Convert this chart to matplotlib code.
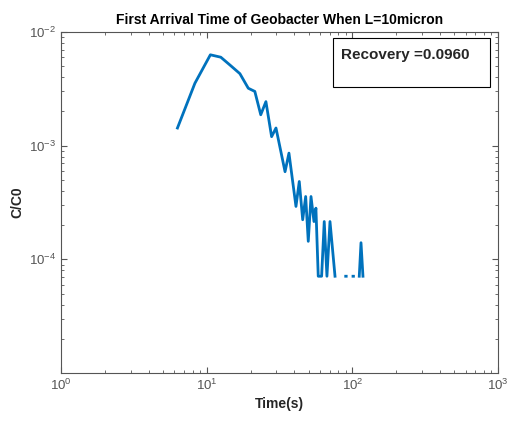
import numpy as np
import matplotlib
matplotlib.use('Agg')
import matplotlib.pyplot as plt
from matplotlib.patches import Rectangle

plt.rcParams['font.family'] = ['Liberation Sans', 'DejaVu Sans']
plt.rcParams['mathtext.fontset'] = 'custom'
plt.rcParams['mathtext.rm'] = 'Liberation Sans'
plt.rcParams['mathtext.it'] = 'Liberation Sans'
plt.rcParams['axes.unicode_minus'] = False

# time (s) and C/C0; NaN marks gaps (zero values on log axis)
time_s = [6.3, 8.3, 10.6, 12.5, 14.5, 16.9, 19.3, 21.4, 23.5, 25.5, 27.9, 29.9,
          34.5, 36.7, 41.0, 43.2, 45.6, 47.8, 49.8, 52.0, 54.5, 56.2, 58.3, 61.5,
          64.1, 66.9, 70.2, 76.0, np.nan,
          90.0, 90.7, np.nan,
          101.0, 101.7, np.nan,
          111.5, 114.6, 118.2]
conc = [1.43e-3, 3.54e-3, 6.3e-3, 6.0e-3, 5.1e-3, 4.3e-3, 3.2e-3, 3.0e-3, 1.87e-3, 2.44e-3, 1.2e-3, 1.43e-3,
        5.9e-4, 8.6e-4, 2.92e-4, 4.84e-4, 2.23e-4, 3.57e-4, 1.44e-4, 3.57e-4, 2.15e-4, 2.82e-4, 7.1e-5, 7.1e-5,
        2.15e-4, 7.1e-5, 2.15e-4, 7.1e-5, np.nan,
        7.1e-5, 7.1e-5, np.nan,
        7.1e-5, 7.1e-5, np.nan,
        7.1e-5, 1.4e-4, 7.1e-5]
recovery = 0.0960

fig = plt.figure(figsize=(5.1, 4.26), dpi=100)
ax = fig.add_axes([0.1196, 0.1244, 0.857, 0.8005])

ax.plot(time_s, conc, color='#0072BD', linewidth=2)

ax.set_xscale('log')
ax.set_yscale('log')
ax.set_xlim(1, 1000)
ax.set_ylim(1e-5, 1e-2)
ax.set_yticks([1e-4, 1e-3, 1e-2])
ax.set_xticks([1, 10, 100, 1000])

gray = '#555555'
for s in ax.spines.values():
    s.set_color('#555555')
    s.set_linewidth(0.8)
ax.tick_params(which='both', direction='in', top=True, right=True, colors='#555555',
               labelcolor=gray, labelsize=9.5)
ax.tick_params(which='major', length=4)
ax.tick_params(which='minor', length=2)

ax.set_title('First Arrival Time of Geobacter When L=10micron', fontsize=10,
             fontweight='bold', pad=6)
ax.set_xlabel('Time(s)', fontsize=10, fontweight='bold', color='#262626', labelpad=3)
ax.set_ylabel('C/C0', fontsize=10, fontweight='bold', color='#262626', labelpad=3)

# annotation text box
fig.patches.append(Rectangle((333 / 510, 1 - 87 / 426), 157 / 510, 49 / 426,
                             transform=fig.transFigure, facecolor='white',
                             edgecolor='black', linewidth=0.8))
fig.text(341 / 510, 1 - 59 / 426, 'Recovery =%.4f' % recovery, fontsize=11,
         fontweight='bold', color='#262626', va='baseline', ha='left')

fig.savefig('out.png', dpi=100)
